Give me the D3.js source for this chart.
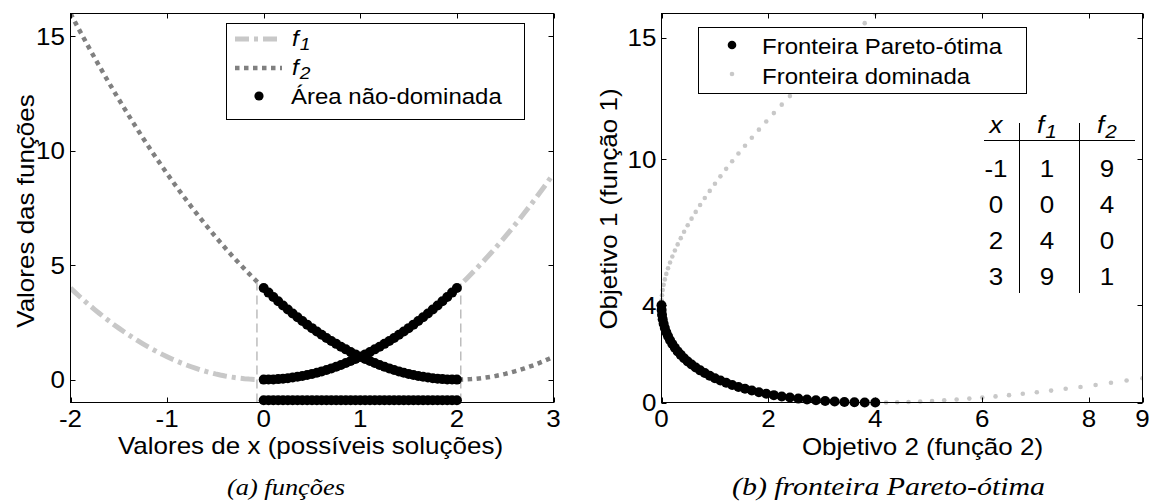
<!DOCTYPE html>
<html>
<head>
<meta charset="utf-8">
<script src="https://cdn.jsdelivr.net/npm/d3@7"></script>
<style>
  html, body { margin: 0; padding: 0; background: #fff; }
  svg { display: block; }
</style>
</head>
<body>
<script>
// ---------------- DATA ----------------
const xValues = [-2,-1.95,-1.9,-1.85,-1.8,-1.75,-1.7,-1.65,-1.6,-1.55,-1.5,-1.45,-1.4,-1.35,-1.3,-1.25,-1.2,-1.15,-1.1,-1.05,
  -1,-0.95,-0.9,-0.85,-0.8,-0.75,-0.7,-0.65,-0.6,-0.55,-0.5,-0.45,-0.4,-0.35,-0.3,-0.25,-0.2,-0.15,-0.1,-0.05,
  0,0.05,0.1,0.15,0.2,0.25,0.3,0.35,0.4,0.45,0.5,0.55,0.6,0.65,0.7,0.75,0.8,0.85,0.9,0.95,
  1,1.05,1.1,1.15,1.2,1.25,1.3,1.35,1.4,1.45,1.5,1.55,1.6,1.65,1.7,1.75,1.8,1.85,1.9,1.95,
  2,2.05,2.1,2.15,2.2,2.25,2.3,2.35,2.4,2.45,2.5,2.55,2.6,2.65,2.7,2.75,2.8,2.85,2.9,2.95,
  3,3.05,3.1,3.15,3.2,3.25,3.3,3.35,3.4,3.45,3.5,3.55,3.6,3.65,3.7,3.75,3.8,3.85,3.9,3.95,4];

const f1Values = [4,3.8025,3.61,3.4225,3.24,3.0625,2.89,2.7225,2.56,2.4025,2.25,2.1025,1.96,1.8225,1.69,1.5625,1.44,1.3225,1.21,1.1025,
  1,0.9025,0.81,0.7225,0.64,0.5625,0.49,0.4225,0.36,0.3025,0.25,0.2025,0.16,0.1225,0.09,0.0625,0.04,0.0225,0.01,0.0025,
  0,0.0025,0.01,0.0225,0.04,0.0625,0.09,0.1225,0.16,0.2025,0.25,0.3025,0.36,0.4225,0.49,0.5625,0.64,0.7225,0.81,0.9025,
  1,1.1025,1.21,1.3225,1.44,1.5625,1.69,1.8225,1.96,2.1025,2.25,2.4025,2.56,2.7225,2.89,3.0625,3.24,3.4225,3.61,3.8025,
  4,4.2025,4.41,4.6225,4.84,5.0625,5.29,5.5225,5.76,6.0025,6.25,6.5025,6.76,7.0225,7.29,7.5625,7.84,8.1225,8.41,8.7025,
  9,9.3025,9.61,9.9225,10.24,10.5625,10.89,11.2225,11.56,11.9025,12.25,12.6025,12.96,13.3225,13.69,14.0625,14.44,14.8225,15.21,15.6025,16];

const f2Values = [16,15.6025,15.21,14.8225,14.44,14.0625,13.69,13.3225,12.96,12.6025,12.25,11.9025,11.56,11.2225,10.89,10.5625,10.24,9.9225,9.61,9.3025,
  9,8.7025,8.41,8.1225,7.84,7.5625,7.29,7.0225,6.76,6.5025,6.25,6.0025,5.76,5.5225,5.29,5.0625,4.84,4.6225,4.41,4.2025,
  4,3.8025,3.61,3.4225,3.24,3.0625,2.89,2.7225,2.56,2.4025,2.25,2.1025,1.96,1.8225,1.69,1.5625,1.44,1.3225,1.21,1.1025,
  1,0.9025,0.81,0.7225,0.64,0.5625,0.49,0.4225,0.36,0.3025,0.25,0.2025,0.16,0.1225,0.09,0.0625,0.04,0.0225,0.01,0.0025,
  0,0.0025,0.01,0.0225,0.04,0.0625,0.09,0.1225,0.16,0.2025,0.25,0.3025,0.36,0.4225,0.49,0.5625,0.64,0.7225,0.81,0.9025,
  1,1.1025,1.21,1.3225,1.44,1.5625,1.69,1.8225,1.96,2.1025,2.25,2.4025,2.56,2.7225,2.89,3.0625,3.24,3.4225,3.61,3.8025,4];

const nonDominatedRange = [0, 2];      // x interval of the non-dominated area
const nonDominatedBandY = -0.9;        // level of the black band under the curves
const boundaryX = [-0.07, 2.04];       // dashed vertical boundary lines
const boundaryTop = [4.25, 4.2];

const leftXTicks = [-2, -1, 0, 1, 2, 3];
const leftYTicks = [0, 5, 10, 15];
const rightXTicks = [0, 2, 4, 6, 8, 9];
const rightYTicks = [0, 4, 10, 15];

const tableX  = [-1, 0, 2, 3];
const tableF1 = [1, 0, 4, 9];
const tableF2 = [9, 4, 0, 1];

const leftXLabel = "Valores de x (possíveis soluções)";
const leftYLabel = "Valores das funções";
const rightXLabel = "Objetivo 2 (função 2)";
const rightYLabel = "Objetivo 1 (função 1)";
const captionA = "(a) funções";
const captionB = "(b) fronteira Pareto-ótima";
const legendA3 = "Área não-dominada";
const legendB1 = "Fronteira Pareto-ótima";
const legendB2 = "Fronteira dominada";

// ---------------- RECORDS ----------------
const points = xValues.map((x, i) => ({ x, f1: f1Values[i], f2: f2Values[i] }));
const curvePts = points.filter(d => d.x <= 3 + 1e-9);
const nonDom = points.filter(d => d.x >= nonDominatedRange[0] - 1e-9 && d.x <= nonDominatedRange[1] + 1e-9);
const dominated = points.filter(d => d.x < nonDominatedRange[0] - 1e-9 || d.x > nonDominatedRange[1] + 1e-9);

// ---------------- SETUP ----------------
const W = 1153, H = 501;
const SANS = "'Liberation Sans', Arial, Helvetica, sans-serif";
const SERIF = "'Liberation Serif', 'Times New Roman', serif";
const svg = d3.select("body").append("svg").attr("width", W).attr("height", H);
svg.append("rect").attr("width", W).attr("height", H).attr("fill", "#fff");

function txt(g, x, y, s, o = {}) {
  const tr = `translate(${x},${y})` + (o.rot ? ` rotate(${o.rot})` : "") + ` scale(1,${o.sy ?? 0.9})`;
  const t = g.append("text").attr("transform", tr)
    .attr("font-family", o.family || SANS)
    .attr("font-size", o.size || 26)
    .attr("font-style", o.style || "normal")
    .attr("text-anchor", o.anchor || "middle")
    .attr("fill", "#000")
    .text(s);
  if (o.len) t.attr("textLength", o.len).attr("lengthAdjust", "spacingAndGlyphs");
  return t;
}
function fsub(g, x, y, sub, o = {}) {
  const t = g.append("text").attr("transform", `translate(${x},${y}) scale(1,0.9)`)
    .attr("font-family", SANS).attr("font-size", o.size || 24)
    .attr("font-style", "italic").attr("text-anchor", o.anchor || "start").attr("fill", "#000");
  t.append("tspan").text("f");
  t.append("tspan").attr("font-size", (o.size || 24) * 0.8).attr("dy", o.dy || 4).attr("dx", 1).text(sub);
  return t;
}

function drawAxes(g, x, y, xt, yt, box) {
  const [x0, x1, y0, y1] = box;
  const tl = 5;
  const ax = g.append("g").attr("stroke", "#000").attr("stroke-width", 1).attr("fill", "none");
  xt.forEach(v => {
    const px = Math.round(x(v)) + 0.5;
    ax.append("line").attr("x1", px).attr("x2", px).attr("y1", y1).attr("y2", y1 - tl);
    ax.append("line").attr("x1", px).attr("x2", px).attr("y1", y0).attr("y2", y0 + tl);
  });
  yt.forEach(v => {
    const py = Math.round(y(v)) + 0.5;
    ax.append("line").attr("x1", x0).attr("x2", x0 + tl).attr("y1", py).attr("y2", py);
    ax.append("line").attr("x1", x1).attr("x2", x1 - tl).attr("y1", py).attr("y2", py);
  });
  ax.append("rect").attr("x", x0).attr("y", y0).attr("width", x1 - x0).attr("height", y1 - y0);
}

// ---------------- LEFT PANEL ----------------
const L = { x0: 70.5, x1: 553.5, y0: 13.5, y1: 402.5 };
const xL = d3.scaleLinear().domain([-2, 3]).range([L.x0, L.x1]);
const yL = d3.scaleLinear().domain([-1, 16]).range([L.y1, L.y0]);
const gL = svg.append("g");
svg.append("clipPath").attr("id", "clipL").append("rect")
  .attr("x", L.x0).attr("y", L.y0).attr("width", L.x1 - L.x0).attr("height", L.y1 - L.y0);

const plotL = gL.append("g").attr("clip-path", "url(#clipL)");
const lineF1 = d3.line().x(d => xL(d.x)).y(d => yL(d.f1));
const lineF2 = d3.line().x(d => xL(d.x)).y(d => yL(d.f2));
plotL.append("path").datum(curvePts).attr("d", lineF1)
  .attr("fill", "none").attr("stroke", "#c8c8c8").attr("stroke-width", 5)
  .attr("stroke-dasharray", "14,5,4,5");
plotL.append("path").datum(curvePts).attr("d", lineF2)
  .attr("fill", "none").attr("stroke", "#808080").attr("stroke-width", 4.5)
  .attr("stroke-dasharray", "4.5,4.5");

// boundary lines
boundaryX.forEach((bx, i) => {
  plotL.append("line").attr("x1", xL(bx)).attr("x2", xL(bx))
    .attr("y1", yL(-1)).attr("y2", yL(boundaryTop[i]))
    .attr("stroke", "#bdbdbd").attr("stroke-width", 1.5).attr("stroke-dasharray", "9,5");
});

// non-dominated markers
const R = 5;
gL.append("g").selectAll("circle.a").data(nonDom).join("circle")
  .attr("cx", d => xL(d.x)).attr("cy", d => yL(d.f1)).attr("r", R).attr("fill", "#000");
gL.append("g").selectAll("circle.b").data(nonDom).join("circle")
  .attr("cx", d => xL(d.x)).attr("cy", d => yL(d.f2)).attr("r", R).attr("fill", "#000");
gL.append("g").selectAll("circle.c").data(nonDom).join("circle")
  .attr("cx", d => xL(d.x)).attr("cy", yL(nonDominatedBandY)).attr("r", R).attr("fill", "#000");

drawAxes(gL, xL, yL, leftXTicks, leftYTicks, [L.x0, L.x1, L.y0, L.y1]);

leftXTicks.forEach(v => txt(gL, xL(v), 427, String(v)));
leftYTicks.forEach(v => txt(gL, 65, yL(v) + 8.4, String(v), { anchor: "end" }));
txt(gL, 310.5, 454, leftXLabel);
txt(gL, 34, 211, leftYLabel, { rot: -90 });

// legend left
const lgA = gL.append("g");
lgA.append("rect").attr("x", 226.5).attr("y", 23.5).attr("width", 298).attr("height", 96)
  .attr("fill", "#fff").attr("stroke", "#000").attr("stroke-width", 1);
lgA.append("line").attr("x1", 235).attr("x2", 282).attr("y1", 39).attr("y2", 39)
  .attr("stroke", "#c8c8c8").attr("stroke-width", 5).attr("stroke-dasharray", "14,5,4,5");
lgA.append("line").attr("x1", 235).attr("x2", 282).attr("y1", 68).attr("y2", 68)
  .attr("stroke", "#808080").attr("stroke-width", 4.5).attr("stroke-dasharray", "4.5,4.5");
lgA.append("circle").attr("cx", 259).attr("cy", 96).attr("r", 4.6).attr("fill", "#000");
fsub(lgA, 292, 46, "1", { size: 24, dy: 4 });
fsub(lgA, 292, 75, "2", { size: 24, dy: 4 });
txt(lgA, 291, 104, legendA3, { anchor: "start", size: 24 });

// caption
txt(gL, 286, 495, captionA, { family: SERIF, style: "italic", size: 24, sy: 1, len: 118 });

// ---------------- RIGHT PANEL ----------------
const Rt = { x0: 661.5, x1: 1142.5, y0: 13.5, y1: 402.5 };
const xR = d3.scaleLinear().domain([0, 9]).range([Rt.x0, Rt.x1]);
const yR = d3.scaleLinear().domain([0, 16]).range([Rt.y1, Rt.y0]);
const gR = svg.append("g");
svg.append("clipPath").attr("id", "clipR").append("rect")
  .attr("x", Rt.x0 - 6).attr("y", Rt.y0).attr("width", Rt.x1 - Rt.x0 + 6).attr("height", Rt.y1 - Rt.y0 + 6);
const plotR = gR.append("g").attr("clip-path", "url(#clipR)");
plotR.selectAll("circle.dom").data(dominated.filter(d => d.f2 <= 9.05 && d.f1 <= 16.05)).join("circle")
  .attr("cx", d => xR(d.f2)).attr("cy", d => yR(d.f1)).attr("r", 2.3).attr("fill", "#c8c8c8");
plotR.selectAll("circle.par").data(nonDom).join("circle")
  .attr("cx", d => xR(d.f2)).attr("cy", d => yR(d.f1)).attr("r", R).attr("fill", "#000");

drawAxes(gR, xR, yR, rightXTicks, rightYTicks, [Rt.x0, Rt.x1, Rt.y0, Rt.y1]);
rightXTicks.forEach(v => txt(gR, xR(v), 427, String(v)));
rightYTicks.forEach(v => txt(gR, 656.5, yR(v) + 8.4, String(v), { anchor: "end" }));
txt(gR, 922.5, 455, rightXLabel);
txt(gR, 617, 209, rightYLabel, { rot: -90 });

// legend right
const lgB = gR.append("g");
lgB.append("rect").attr("x", 698.5).attr("y", 27.5).attr("width", 328).attr("height", 66)
  .attr("fill", "#fff").attr("stroke", "#000").attr("stroke-width", 1);
lgB.append("circle").attr("cx", 732).attr("cy", 45).attr("r", 4.3).attr("fill", "#000");
lgB.append("circle").attr("cx", 732).attr("cy", 74).attr("r", 2.3).attr("fill", "#c8c8c8");
txt(lgB, 762, 53.5, legendB1, { anchor: "start", size: 24 });
txt(lgB, 762, 83.5, legendB2, { anchor: "start", size: 24 });

// table
const tb = gR.append("g");
const colX = [996, 1047, 1107];
txt(tb, colX[0], 133, "x", { style: "italic", size: 26 });
fsub(tb, colX[1] - 10, 133, "1", { size: 26, dy: 5 });
fsub(tb, colX[2] - 10, 133, "2", { size: 26, dy: 5 });
tb.append("line").attr("x1", 984).attr("x2", 1135).attr("y1", 140.5).attr("y2", 140.5)
  .attr("stroke", "#000").attr("stroke-width", 1);
[1019.5, 1079.5].forEach(vx => tb.append("line").attr("x1", vx).attr("x2", vx)
  .attr("y1", 123).attr("y2", 293).attr("stroke", "#000").attr("stroke-width", 1));
const rowY = [177, 213, 249, 285];
tableX.forEach((v, i) => {
  txt(tb, colX[0], rowY[i], String(v), { size: 26 });
  txt(tb, colX[1], rowY[i], String(tableF1[i]), { size: 26 });
  txt(tb, colX[2], rowY[i], String(tableF2[i]), { size: 26 });
});

txt(gR, 888.5, 495, captionB, { family: SERIF, style: "italic", size: 25, sy: 1, len: 313 });
</script>
</body>
</html>
